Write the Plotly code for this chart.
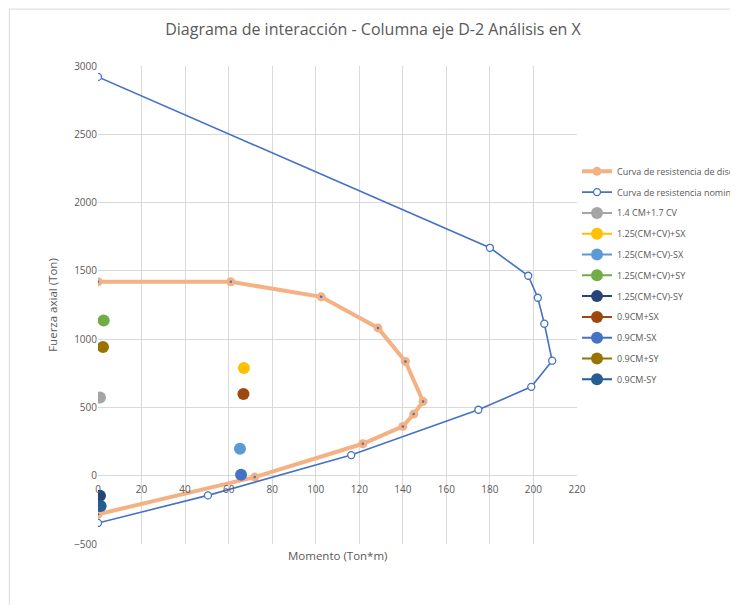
import plotly.graph_objects as go

# Design strength curve (Momento, Fuerza axial)
design_m = [0, 61, 102.5, 128.6, 141.2, 149.3, 145, 140, 121.6, 72, 0]
design_p = [1420, 1420, 1310, 1082, 836, 544, 451, 361, 234, -10, -282]

# Nominal strength curve
nominal_m = [0, 180, 197.6, 202, 205, 208.6, 199, 174.7, 116.3, 50.5, 0]
nominal_p = [2920, 1669, 1464, 1303, 1113, 842, 651, 483, 151, -144, -346]

# Load combinations
combo_names = ["1.4 CM+1.7 CV", "1.25(CM+CV)+SX", "1.25(CM+CV)-SX", "1.25(CM+CV)+SY",
               "1.25(CM+CV)-SY", "0.9CM+SX", "0.9CM-SX", "0.9CM+SY", "0.9CM-SY"]
combo_m = [0.9, 67, 65.2, 2.6, 0.9, 66.8, 65.7, 2.3, 1.2]
combo_p = [573, 788, 198, 1137, -146, 598, 7, 942, -222]
combo_colors = ["#A5A5A5", "#FFC000", "#5B9BD5", "#70AD47", "#264478",
                "#9E480E", "#4472C4", "#997300", "#255E91"]

x_ticks = list(range(0, 221, 20))
y_ticks = list(range(-500, 3001, 500))

title_text = "Diagrama de interacción - Columna eje D-2 Análisis en X"
x_title = "Momento (Ton*m)"
y_title = "Fuerza axial (Ton)"

FONT = "Open Sans, Noto Sans, sans-serif"
GRAY = "#595959"

fig = go.Figure()
fig.add_trace(go.Scatter(
    x=design_m, y=design_p, mode="lines+markers",
    name="Curva de resistencia de diseño", legendgroup="g0",
    line=dict(color="#F4B183", width=4),
    marker=dict(color="#F4B183", size=9, symbol="circle"),
))
# small centre dots on the design-curve markers
fig.add_trace(go.Scatter(
    x=design_m, y=design_p, mode="markers", showlegend=False, hoverinfo="skip",
    legendgroup="g0",
    marker=dict(color="#4472C4", size=2.5),
))
fig.add_trace(go.Scatter(
    x=nominal_m, y=nominal_p, mode="lines+markers",
    name="Curva de resistencia nominal", legendgroup="g1",
    line=dict(color="#4472C4", width=1.6),
    marker=dict(color="white", size=7, line=dict(color="#4472C4", width=1.3)),
))
for i, (name, m, p, c) in enumerate(zip(combo_names, combo_m, combo_p, combo_colors)):
    fig.add_trace(go.Scatter(
        x=[m], y=[p], mode="lines+markers", name=name, legendgroup=f"c{i}",
        line=dict(color=c, width=2),
        marker=dict(color=c, size=12),
    ))

# page body adds an 8px offset; figure sized so it ends at the window edge
fig.update_layout(
    width=730, height=597,
    margin=dict(l=90, r=161, t=58, b=61, autoexpand=False),
    paper_bgcolor="white", plot_bgcolor="white",
    font=dict(family=FONT, color=GRAY, size=10),
    title=dict(text=title_text, x=0.5, xanchor="center", y=0.9635, yanchor="middle",
               font=dict(size=16, color=GRAY, family=FONT)),
    showlegend=True,
    legend=dict(x=1.0, xanchor="left", y=0.81, yanchor="top",
                font=dict(size=9, color=GRAY, family=FONT),
                itemwidth=30, traceorder="grouped", tracegroupgap=1.8,
                bgcolor="rgba(0,0,0,0)"),
    xaxis=dict(range=[0, 220], tickvals=x_ticks, showgrid=True, gridcolor="#D9D9D9",
               gridwidth=1, zeroline=False, showline=False, automargin=False,
               anchor="free", position=500 / 3500, ticklabelstandoff=6,
               tickfont=dict(size=10, color=GRAY), ticks=""),
    yaxis=dict(range=[-500, 3000], tickvals=y_ticks, showgrid=True, gridcolor="#D9D9D9",
               gridwidth=1, zeroline=False, showline=False, automargin=False,
               tickfont=dict(size=10, color=GRAY), ticks="",
               title=dict(text=y_title, font=dict(size=11.5, color=GRAY), standoff=14)),
    annotations=[dict(text=x_title, xref="paper", yref="paper", x=0.5, y=-0.005,
                      xanchor="center", yanchor="top", showarrow=False,
                      font=dict(size=11.5, color=GRAY))],
    shapes=[
        dict(type="line", xref="paper", yref="paper", x0=-0.185, x1=1.4, y0=1.119, y1=1.119,
             line=dict(color="#D9D9D9", width=1)),
        dict(type="line", xref="paper", yref="paper", x0=-0.185, x1=-0.185, y0=1.119, y1=-0.2,
             line=dict(color="#D9D9D9", width=1)),
    ],
)

fig.write_html("out.html")
